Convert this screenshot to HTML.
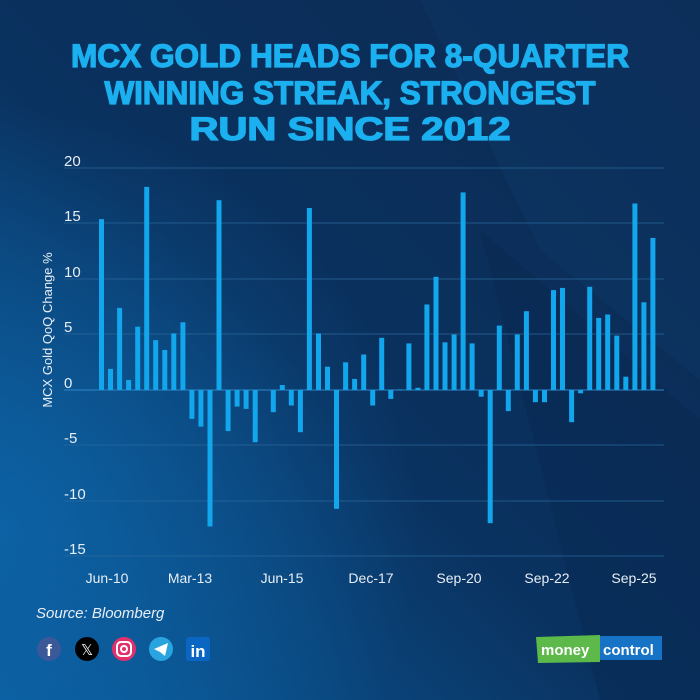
<!DOCTYPE html>
<html><head><meta charset="utf-8"><style>
html,body{margin:0;padding:0;width:700px;height:700px;overflow:hidden}
</style></head><body>
<svg width="700" height="700" xmlns="http://www.w3.org/2000/svg" font-family="Liberation Sans, sans-serif">
<defs>
<linearGradient id="bg" x1="1" y1="0" x2="0" y2="1">
<stop offset="0" stop-color="#0c2a52"/>
<stop offset="0.55" stop-color="#0a3260"/>
<stop offset="1" stop-color="#0a5d9e"/>
</linearGradient>
<radialGradient id="glow" cx="0" cy="0.75" r="0.6">
<stop offset="0" stop-color="#0d66aa" stop-opacity="0.8"/>
<stop offset="1" stop-color="#0d66aa" stop-opacity="0"/>
</radialGradient>
</defs>
<rect width="700" height="700" fill="url(#bg)"/>
<rect width="700" height="700" fill="url(#glow)"/>
<polygon points="420,0 700,0 700,380 540,250" fill="#0e3a6a" opacity="0.35"/>
<polygon points="480,230 700,420 700,700 600,700" fill="#07264a" opacity="0.3"/>
<g fill="#1bb0f0" stroke="#1bb0f0" stroke-width="1.3" font-weight="bold" text-anchor="middle">
<text x="350" y="67" font-size="32" textLength="558" lengthAdjust="spacingAndGlyphs">MCX GOLD HEADS FOR 8-QUARTER</text>
<text x="350" y="104" font-size="32" textLength="491" lengthAdjust="spacingAndGlyphs">WINNING STREAK, STRONGEST</text>
<text x="350" y="140" font-size="32" textLength="321" lengthAdjust="spacingAndGlyphs">RUN SINCE 2012</text>
</g>
<g stroke="#2b6a9e" stroke-width="1" opacity="0.7">
<line x1="64" x2="664" y1="168" y2="168"/><line x1="64" x2="664" y1="223" y2="223"/>
<line x1="64" x2="664" y1="279" y2="279"/><line x1="64" x2="664" y1="334" y2="334"/>
<line x1="64" x2="664" y1="445" y2="445"/>
<line x1="64" x2="664" y1="501" y2="501"/><line x1="64" x2="664" y1="556" y2="556"/>
</g>
<line x1="64" x2="664" y1="390" y2="390" stroke="#2e86c8" stroke-width="1"/>
<g fill="#e8eef5" font-size="15">
<text x="64" y="166">20</text><text x="64" y="221">15</text><text x="64" y="277">10</text>
<text x="64" y="332">5</text><text x="64" y="388">0</text><text x="64" y="443">-5</text>
<text x="64" y="499">-10</text><text x="64" y="554">-15</text>
</g>
<text transform="translate(52,330) rotate(-90)" fill="#e8eef5" font-size="13" text-anchor="middle">MCX Gold QoQ Change %</text>
<g fill="#e8eef5" font-size="14" text-anchor="middle">
<text x="107" y="583">Jun-10</text><text x="190" y="583">Mar-13</text><text x="282" y="583">Jun-15</text>
<text x="371" y="583">Dec-17</text><text x="459" y="583">Sep-20</text><text x="547" y="583">Sep-22</text>
<text x="634" y="583">Sep-25</text>
</g>
<g id="bars" fill="#12a6ec"></g>
<text x="36" y="618" fill="#e8eef5" font-size="15" font-style="italic">Source: Bloomberg</text>
<circle cx="49" cy="649" r="12" fill="#3b5998"/><text x="49" y="656" fill="#fff" font-size="17" font-weight="bold" text-anchor="middle">f</text>
<circle cx="87" cy="649" r="12" fill="#000"/><text x="87" y="655" fill="#fff" font-size="15" text-anchor="middle">𝕏</text>
<circle cx="124" cy="649" r="12" fill="#e1306c"/><rect x="117" y="642" width="14" height="14" rx="4" fill="none" stroke="#fff" stroke-width="2"/><circle cx="124" cy="649" r="3" fill="none" stroke="#fff" stroke-width="2"/>
<circle cx="161" cy="649" r="12" fill="#2aa4de"/><polygon points="154,649 168,643 165,656 160,652" fill="#fff"/>
<rect x="186" y="637" width="24" height="24" rx="3" fill="#0a66c2"/><text x="198" y="657" fill="#fff" font-size="17" font-weight="bold" text-anchor="middle">in</text>
<polygon points="536,637 600,635 600,662 538,663" fill="#5cb94a"/>
<rect x="600" y="636" width="62" height="24" fill="#1673c6"/>
<text x="541" y="655" fill="#fff" font-size="15" font-weight="bold">money</text>
<text x="603" y="655" fill="#fff" font-size="15" font-weight="bold">control</text>
</svg>
<script>
var v=[15.4,1.9,7.4,0.9,5.7,18.3,4.5,3.6,5.1,6.1,-2.6,-3.3,-12.3,17.1,-3.7,-1.5,-1.7,-4.7,0,-2.0,0.45,-1.4,-3.8,16.4,5.1,2.1,-10.7,
2.5,1.0,3.2,-1.4,4.7,-0.8,0.05,4.2,0.2,7.7,10.2,4.3,5.0,17.8,4.2,-0.6,-12.0,5.8,-1.9,5.0,7.1,-1.1,-1.1,9.0,9.2,-2.9,-0.3,9.3,6.5,6.8,4.9,1.2,16.8,7.9,13.7];
var g=document.getElementById('bars'),s='';
for(var i=0;i<v.length;i++){var x=99+i*9.04,h=Math.abs(v[i])*11.1,y=v[i]>=0?390-h:390;
s+='<rect x="'+x.toFixed(1)+'" y="'+y.toFixed(1)+'" width="5" height="'+h.toFixed(1)+'"/>';}
g.innerHTML=s;
</script>
</body></html>
